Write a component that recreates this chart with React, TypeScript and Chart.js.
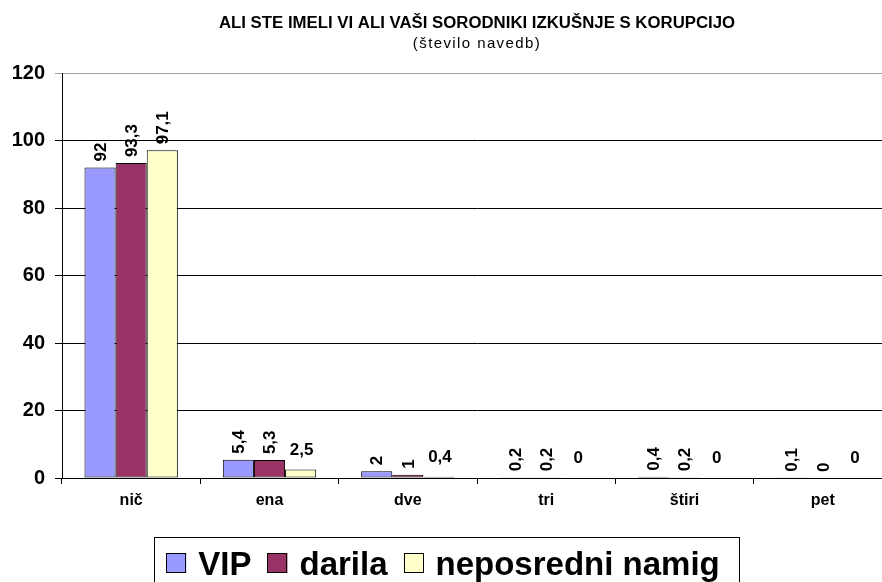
import React, { useEffect, useRef } from "react";
import { Chart, registerables } from "chart.js";

Chart.register(...registerables);

const categories = ["nič", "ena", "dve", "tri", "štiri", "pet"];
const seriesNames = ["VIP", "darila", "neposredni namig"];
const vipValues = [92, 5.4, 2, 0.2, 0.4, 0.1];
const darilaValues = [93.3, 5.3, 1, 0.2, 0.2, 0];
const namigValues = [97.1, 2.5, 0.4, 0, 0, 0];
const seriesColors = ["#9999FF", "#993366", "#FFFFCC"];
const yTicks = [0, 20, 40, 60, 80, 100, 120];
const titleText = "ALI STE IMELI VI ALI VAŠI SORODNIKI IZKUŠNJE S KORUPCIJO";
const subtitleText = "(število navedb)";
// labels drawn horizontally (others rotated): [datasetIndex][categoryIndex]
const horizontalLabels = [
  [false, false, false, false, false, false],
  [false, false, false, false, false, false],
  [false, true, true, true, true, true],
];

const FONT = "'Liberation Sans', Arial, Helvetica, sans-serif";

const fmt = (v: number) => String(v).replace(".", ",");

const titlePlugin = {
  id: "customTitle",
  afterDraw(chart: any) {
    const ctx = chart.ctx;
    ctx.save();
    ctx.fillStyle = "#000";
    ctx.textAlign = "center";
    ctx.textBaseline = "middle";
    ctx.font = `bold 16.8px ${FONT}`;
    ctx.fillText(titleText, 477, 23);
    ctx.font = `15px ${FONT}`;
    try { (ctx as any).letterSpacing = "1.4px"; } catch (e) {}
    ctx.fillText(subtitleText, 477, 44);
    try { (ctx as any).letterSpacing = "0px"; } catch (e) {}
    ctx.restore();
  },
};

const dataLabelPlugin = {
  id: "dataLabels",
  afterDatasetsDraw(chart: any) {
    const ctx = chart.ctx;
    ctx.save();
    ctx.fillStyle = "#000";
    ctx.font = `bold 17px ${FONT}`;
    chart.data.datasets.forEach((ds: any, di: number) => {
      const meta = chart.getDatasetMeta(di);
      meta.data.forEach((bar: any, i: number) => {
        const v = ds.data[i];
        const txt = fmt(v);
        if (horizontalLabels[di][i]) {
          ctx.textAlign = "center";
          ctx.textBaseline = "alphabetic";
          ctx.fillText(txt, bar.x + 1, bar.y - 15);
        } else {
          ctx.save();
          ctx.translate(bar.x + 1, bar.y - 6);
          ctx.rotate(-Math.PI / 2);
          ctx.textAlign = "left";
          ctx.textBaseline = "middle";
          ctx.fillText(txt, 0, 0);
          ctx.restore();
        }
      });
    });
    ctx.restore();
  },
};

const legendPlugin = {
  id: "customLegend",
  afterDraw(chart: any) {
    const ctx = chart.ctx;
    ctx.save();
    ctx.font = `bold 33px ${FONT}`;
    const box = 20;
    const gapBoxText = 12;
    const gapItems = 16;
    const ds = chart.data.datasets;
    const widths = ds.map((d: any) => ctx.measureText(d.label).width);
    const total =
      widths.reduce((a: number, b: number) => a + b, 0) +
      ds.length * (box + gapBoxText) +
      (ds.length - 1) * gapItems;
    let x = 443 - total / 2;
    const startX = x;
    ds.forEach((d: any, i: number) => {
      ctx.fillStyle = d.backgroundColor;
      ctx.fillRect(x, 553, box, box);
      ctx.strokeStyle = "#000";
      ctx.lineWidth = 1;
      ctx.strokeRect(Math.round(x) + 0.5, 553.5, box - 1, box - 1);
      ctx.fillStyle = "#000";
      ctx.textAlign = "left";
      ctx.textBaseline = "alphabetic";
      ctx.fillText(d.label, x + box + gapBoxText, 575);
      x += box + gapBoxText + widths[i] + gapItems;
    });
    const endX = x - gapItems;
    ctx.strokeStyle = "#000";
    ctx.lineWidth = 1;
    ctx.strokeRect(Math.round(startX - 12) + 0.5, 537.5, Math.round(endX - startX + 32), 80);
    ctx.restore();
  },
};

export default function App() {
  const ref = useRef<HTMLCanvasElement | null>(null);
  useEffect(() => {
    if (!ref.current) return;
    const values = [vipValues, darilaValues, namigValues];
    const chart = new Chart(ref.current, {
      type: "bar",
      data: {
        labels: categories,
        datasets: seriesNames.map((name, i) => ({
          label: name,
          data: values[i],
          backgroundColor: seriesColors[i],
          borderColor: "#000",
          borderWidth: 1,
          borderSkipped: false,
          categoryPercentage: 0.675,
          barPercentage: 1,
        })),
      },
      options: {
        responsive: false,
        animation: false,
        devicePixelRatio: 1,
        layout: { padding: { top: 73, left: 0, right: 5, bottom: 87 } },
        plugins: {
          legend: { display: false },
          title: { display: false },
          tooltip: { enabled: false },
        },
        scales: {
          x: {
            afterFit: (s: any) => {
              s.height = 30;
            },
            grid: {
              offset: true,
              drawOnChartArea: false,
              drawTicks: true,
              tickLength: 6,
              color: "#000",
            },
            border: { display: true, color: "#000", width: 1 },
            ticks: {
              color: "#000",
              padding: 7,
              font: { family: FONT, size: 16, weight: "bold" },
            },
          },
          y: {
            min: 0,
            max: 120,
            afterFit: (s: any) => {
              s.width = 62;
            },
            afterBuildTicks: (s: any) => {
              s.ticks = yTicks.map((v) => ({ value: v }));
            },
            grid: {
              color: (c: any) => (c.tick && c.tick.value === 120 ? "#a0a0a0" : "#000"),
              tickLength: 7,
              drawTicks: true,
            },
            border: { display: true, color: "#000", width: 1 },
            ticks: {
              color: "#000",
              padding: 10,
              font: { family: FONT, size: 20, weight: "bold" },
            },
          },
        },
      },
      plugins: [titlePlugin, dataLabelPlugin, legendPlugin],
    } as any);
    return () => chart.destroy();
  }, []);
  return (
    <div
      style={{
        position: "absolute",
        left: 0,
        top: 0,
        width: 882,
        height: 582,
        overflow: "hidden",
        background: "#fff",
      }}
    >
      <canvas ref={ref} width={897} height={595} style={{ width: 897, height: 595, display: "block" }} />
    </div>
  );
}
